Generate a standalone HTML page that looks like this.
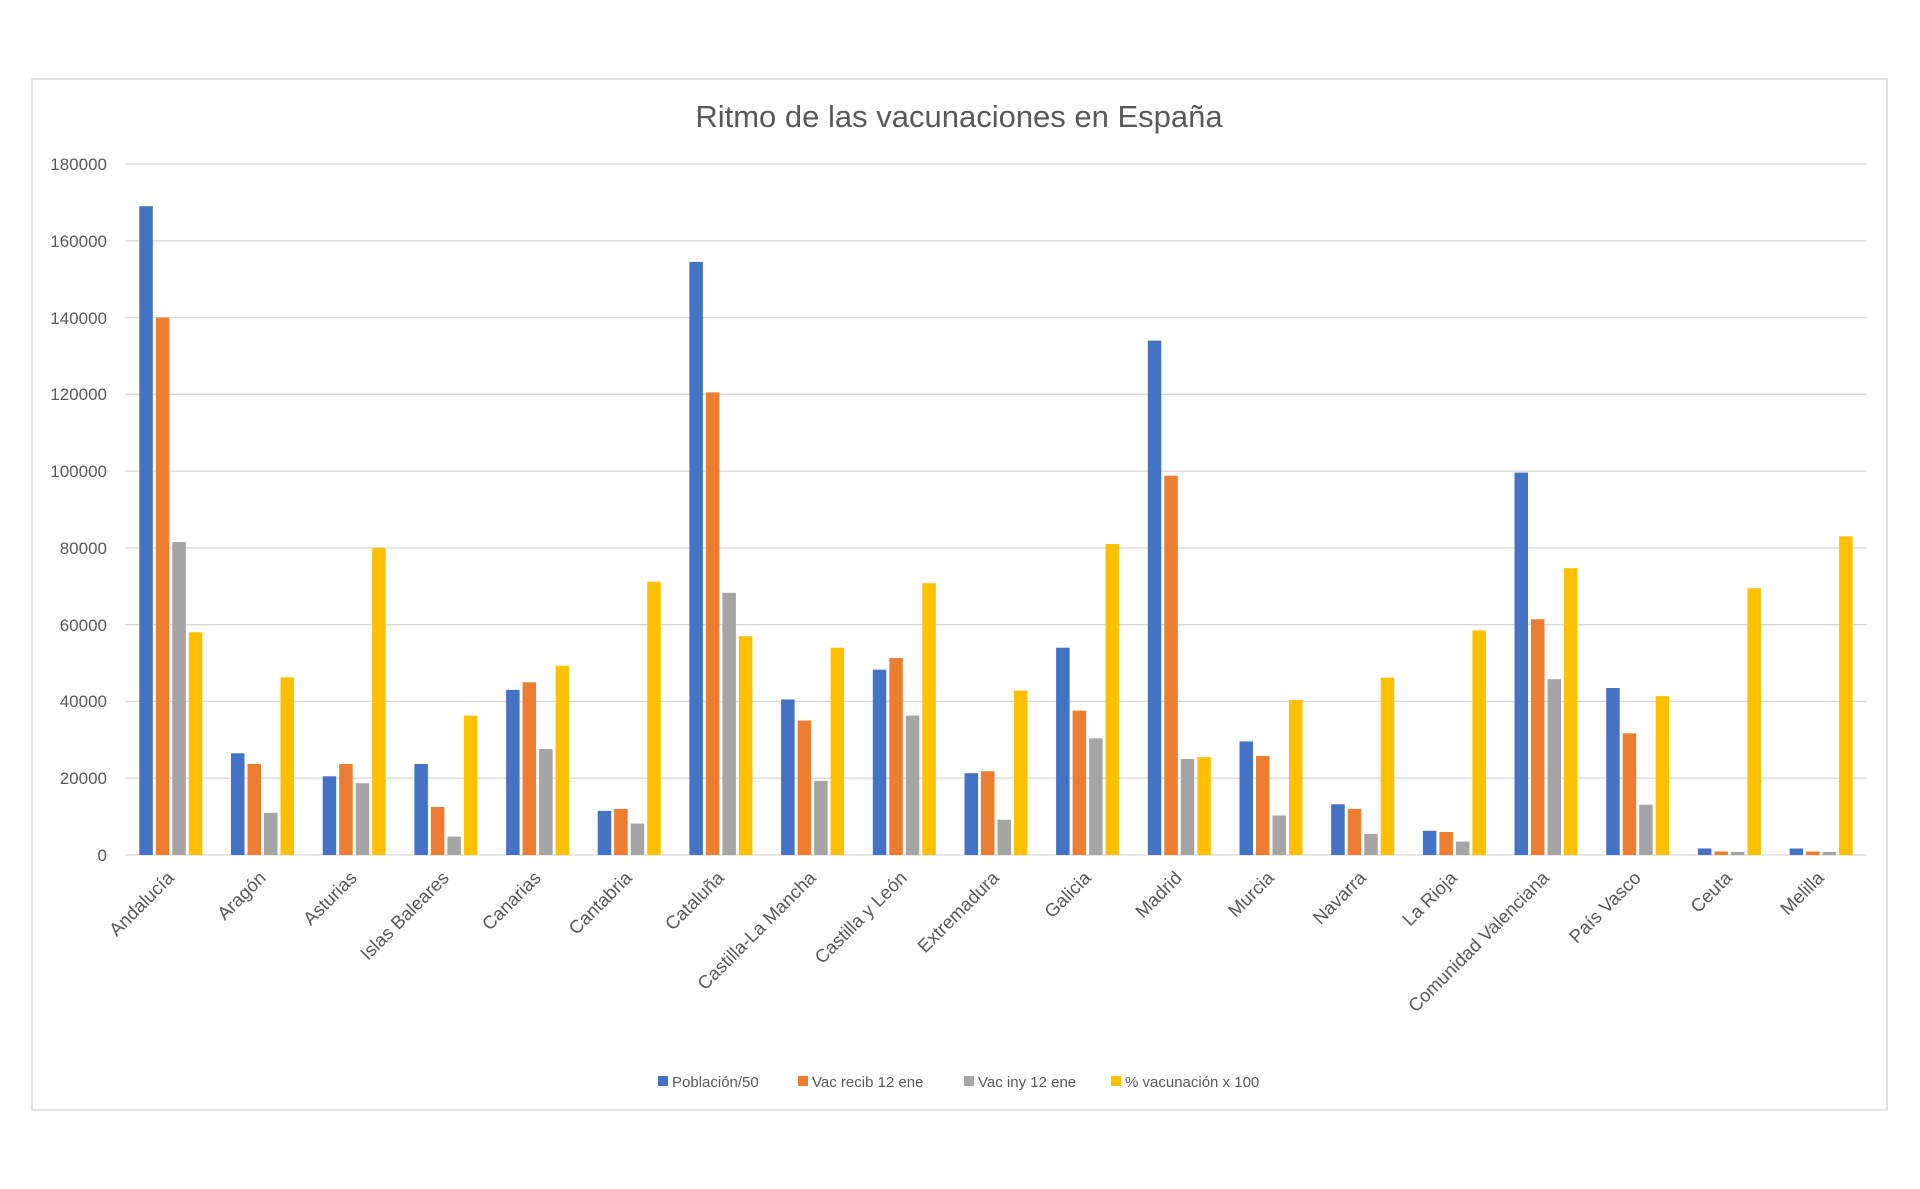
<!DOCTYPE html>
<html><head><meta charset="utf-8"><style>
html,body{margin:0;padding:0;background:#fff}
svg{display:block}
text{font-family:"Liberation Sans",sans-serif;fill:#595959}
</style></head><body>
<svg width="1920" height="1189" xmlns="http://www.w3.org/2000/svg">
<rect x="32" y="79" width="1855" height="1031" fill="#fff" stroke="#d9d9d9" stroke-width="1.5"/>
<text x="959" y="127" font-size="31" text-anchor="middle">Ritmo de las vacunaciones en España</text>
<g stroke="#d9d9d9" stroke-width="1.3">
<line x1="125" x2="1867" y1="164" y2="164"/><line x1="125" x2="1867" y1="240.8" y2="240.8"/>
<line x1="125" x2="1867" y1="317.6" y2="317.6"/><line x1="125" x2="1867" y1="394.3" y2="394.3"/>
<line x1="125" x2="1867" y1="471.1" y2="471.1"/><line x1="125" x2="1867" y1="547.9" y2="547.9"/>
<line x1="125" x2="1867" y1="624.7" y2="624.7"/><line x1="125" x2="1867" y1="701.4" y2="701.4"/>
<line x1="125" x2="1867" y1="778.2" y2="778.2"/><line x1="125" x2="1867" y1="855" y2="855"/>
</g>
<g font-size="17" text-anchor="end">
<text x="107" y="170">180000</text><text x="107" y="247">160000</text><text x="107" y="324">140000</text>
<text x="107" y="400">120000</text><text x="107" y="477">100000</text><text x="107" y="554">80000</text>
<text x="107" y="631">60000</text><text x="107" y="707">40000</text><text x="107" y="784">20000</text>
<text x="107" y="861">0</text>
</g>
<g id="bars"></g>
<g font-size="18.5" text-anchor="end">
<text transform="translate(175,879) rotate(-45)">Andalucía</text>
<text transform="translate(267,879) rotate(-45)">Aragón</text>
<text transform="translate(358,879) rotate(-45)">Asturias</text>
<text transform="translate(450,879) rotate(-45)">Islas Baleares</text>
<text transform="translate(542,879) rotate(-45)">Canarias</text>
<text transform="translate(633,879) rotate(-45)">Cantabria</text>
<text transform="translate(725,879) rotate(-45)">Cataluña</text>
<text transform="translate(817,879) rotate(-45)">Castilla-La Mancha</text>
<text transform="translate(908,879) rotate(-45)">Castilla y León</text>
<text transform="translate(1000,879) rotate(-45)">Extremadura</text>
<text transform="translate(1092,879) rotate(-45)">Galicia</text>
<text transform="translate(1183,879) rotate(-45)">Madrid</text>
<text transform="translate(1275,879) rotate(-45)">Murcia</text>
<text transform="translate(1367,879) rotate(-45)">Navarra</text>
<text transform="translate(1458,879) rotate(-45)">La Rioja</text>
<text transform="translate(1550,879) rotate(-45)">Comunidad Valenciana</text>
<text transform="translate(1642,879) rotate(-45)">País Vasco</text>
<text transform="translate(1733,879) rotate(-45)">Ceuta</text>
<text transform="translate(1825,879) rotate(-45)">Melilla</text>
</g>
<g font-size="15">
<rect x="658" y="1076" width="10" height="10" fill="#4472C4"/><text x="672" y="1087">Población/50</text>
<rect x="798" y="1076" width="10" height="10" fill="#ED7D31"/><text x="812" y="1087">Vac recib 12 ene</text>
<rect x="964" y="1076" width="10" height="10" fill="#A5A5A5"/><text x="978" y="1087">Vac iny 12 ene</text>
<rect x="1111" y="1076" width="10" height="10" fill="#FFC000"/><text x="1125" y="1087">% vacunación x 100</text>
</g>
</svg>
<script>
var d=[[169000,140000,81500,58000],[26500,23700,11000,46300],[20500,23700,18700,80000],[23700,12500,4800,36300],[43000,45000,27600,49300],[11500,12000,8200,71200],[154500,120500,68300,57000],[40500,35000,19300,54000],[48300,51300,36300,70800],[21300,21800,9200,42800],[54000,37600,30400,81000],[134000,98800,25000,25500],[29600,25800,10300,40400],[13200,12000,5500,46200],[6300,6000,3500,58500],[99600,61400,45800,74700],[43500,31700,13100,41400],[1700,900,800,69500],[1700,900,800,83000]];
var c=["#4472C4","#ED7D31","#A5A5A5","#FFC000"],g=document.getElementById("bars"),s="";
for(var i=0;i<d.length;i++){var x0=125+91.68*i+45.84-31.5;for(var j=0;j<4;j++){var h=d[i][j]/180000*691;s+='<rect x="'+(x0+j*16.5).toFixed(1)+'" y="'+(855-h).toFixed(1)+'" width="13.5" height="'+h.toFixed(1)+'" fill="'+c[j]+'"/>';}}
g.innerHTML=s;
</script>
</body></html>
